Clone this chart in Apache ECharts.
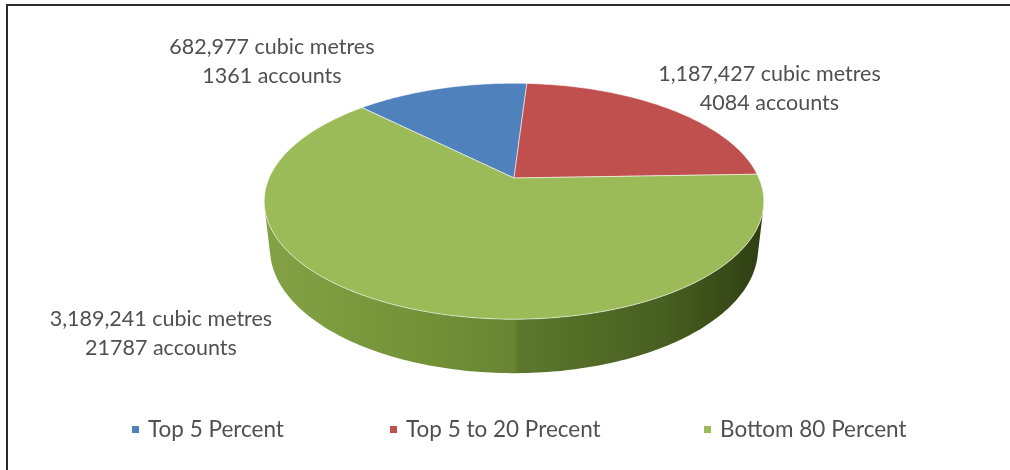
<!DOCTYPE html>
<html>
<head>
<meta charset="utf-8">
<script src="https://cdn.jsdelivr.net/npm/echarts@6/dist/echarts.min.js"></script>
<style>
  html, body { margin: 0; padding: 0; background: #fff; }
  #chart { width: 1010px; height: 470px; }
</style>
</head>
<body>
<div id="chart"></div>
<script>
// Water use by account group
const categories = ['Top 5 Percent', 'Top 5 to 20 Precent', 'Bottom 80 Percent'];
const volumes = [682977, 1187427, 3189241];   // cubic metres
const accounts = [1361, 4084, 21787];
const colors = ['#4F81BD', '#C0504D', '#9BBB59'];

// Perspective view of the pie disc (unit radius, angles clockwise from 12 o'clock)
const VIEW = { cx: 514, cy: 178, dist: 4.5, focal: 1102, thick: 0.22, tiltSin: 0.463, startAngle: -45 };
// Label nudges away from each slice's rim midpoint, in pixels
const labelShift = [[-169, -27], [101, -20], [-243, 26]];

const total = volumes.reduce((a, b) => a + b, 0);
const sliceAngles = [];
(function () {
  let acc = 0;
  volumes.forEach(v => {
    const a0 = VIEW.startAngle + 360 * acc / total;
    acc += v;
    sliceAngles.push([a0, VIEW.startAngle + 360 * acc / total]);
  });
})();

function project(thetaDeg, depth) {
  const t = thetaDeg * Math.PI / 180;
  const X = Math.sin(t), Z = -Math.cos(t);
  const s = VIEW.tiltSin, c = Math.sqrt(1 - s * s);
  const yc = depth * c + Z * s;
  const zc = VIEW.dist - Z * c + depth * s;
  return [VIEW.cx + VIEW.focal * X / zc, VIEW.cy + VIEW.focal * yc / zc];
}

function arc(a0, a1, depth) {
  const pts = [];
  const n = Math.max(2, Math.ceil(Math.abs(a1 - a0)));
  for (let i = 0; i <= n; i++) pts.push(project(a0 + (a1 - a0) * i / n, depth));
  return pts;
}

function fmt(n) {
  return String(n).replace(/\B(?=(\d{3})+(?!\d))/g, ',');
}

// Part of the rim facing the camera
const halfFront = Math.acos(1 / (VIEW.dist * Math.sqrt(1 - VIEW.tiltSin * VIEW.tiltSin))) * 180 / Math.PI;
const front = [180 - halfFront, 180 + halfFront];

function renderSlice(idx) {
  return function (params, api) {
    const [a0, a1] = sliceAngles[idx];
    const children = [];
    // visible wall
    let s0 = a0, s1 = a1;
    while (s0 < 0) { s0 += 360; s1 += 360; }
    const w0 = Math.max(s0, front[0]), w1 = Math.min(s1, front[1]);
    if (w1 > w0) {
      const pts = arc(w0, w1, 0).concat(arc(w1, w0, VIEW.thick));
      children.push({
        type: 'polygon', z2: 1,
        shape: { points: pts },
        style: {
          fill: new echarts.graphic.LinearGradient(0, 0, 1, 0, [
            { offset: 0, color: '#84A245' },
            { offset: 0.3, color: '#749338' },
            { offset: 0.5, color: '#678533' },
            { offset: 0.51, color: '#5C782D' },
            { offset: 0.8, color: '#475F20' },
            { offset: 1, color: '#2F3F12' }
          ]),
          stroke: null
        }
      });
    }
    // top face
    const top = [[VIEW.cx, VIEW.cy]].concat(arc(a0, a1, 0));
    children.push({
      type: 'polygon', z2: 5,
      shape: { points: top },
      style: { fill: colors[idx], stroke: 'rgba(255,255,255,0.55)', lineWidth: 1 }
    });
    // data label
    const mid = project((a0 + a1) / 2, 0);
    children.push({
      type: 'text', z2: 10,
      x: mid[0] + labelShift[idx][0],
      y: mid[1] + labelShift[idx][1],
      style: {
        text: fmt(volumes[idx]) + ' cubic metres\n' + accounts[idx] + ' accounts',
        align: 'center', verticalAlign: 'middle',
        fontFamily: 'Lato', fontSize: 21.5, lineHeight: 29, fill: '#505050'
      }
    });
    return { type: 'group', children };
  };
}

const legendLeft = [132, 390, 704];

const chart = echarts.init(document.getElementById('chart'), null, { renderer: 'canvas' });
chart.setOption({
  backgroundColor: '#ffffff',
  animation: false,
  legend: categories.map((name, i) => ({
    data: [name],
    left: legendLeft[i], top: 418, padding: 0,
    icon: 'rect', itemWidth: 7, itemHeight: 7,
    textStyle: { fontFamily: 'Lato', fontSize: 22.5, color: '#505050', padding: [0, 0, 0, 4] },
    selectedMode: false
  })),
  graphic: [
    { type: 'line', shape: { x1: 6, y1: 5, x2: 1010, y2: 5 }, style: { stroke: '#2b2b2b', lineWidth: 2 } },
    { type: 'line', shape: { x1: 7, y1: 4, x2: 7, y2: 470 }, style: { stroke: '#2b2b2b', lineWidth: 2 } }
  ],
  series: categories.map((name, i) => ({
    type: 'custom',
    name: name,
    coordinateSystem: 'none',
    itemStyle: { color: colors[i] },
    data: [[volumes[i]]],
    renderItem: renderSlice(i)
  }))
});
</script>
</body>
</html>
